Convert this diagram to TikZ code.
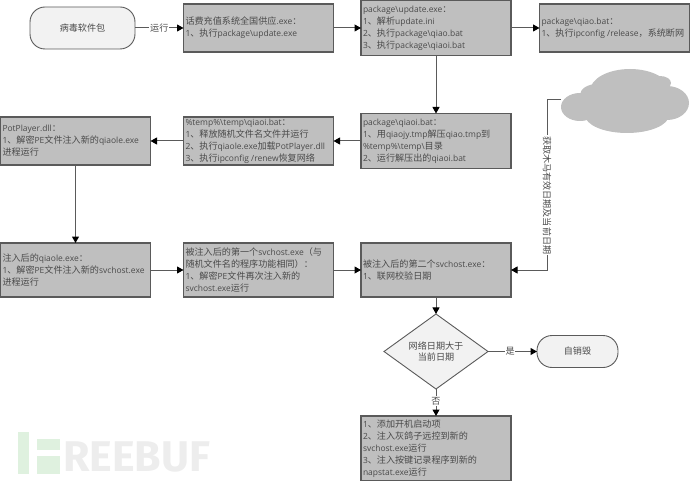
\documentclass[tikz,border=0pt]{standalone}
\usepackage{fontspec}
\usetikzlibrary{arrows.meta,shapes.geometric}
\setmainfont[Scale=0.93]{Open Sans}
\newfontfamily\cjk{Noto Sans CJK SC}
\newfontfamily\wmfont{Fira Sans}
\newcommand{\zh}[1]{{\cjk #1}}
\newcommand{\bs}{\textbackslash{}}
\definecolor{boxfill}{HTML}{BFBFBF}
\definecolor{pale}{HTML}{F2F2F2}
\definecolor{edge}{HTML}{5A5A5A}
\definecolor{txt}{HTML}{4A4A4A}
\tikzset{
  x=1pt,y=-1pt,
  every node/.style={font=\fontsize{9.1}{11.9}\selectfont,text=txt},
  stepbox/.style={draw=edge,fill=boxfill,line width=1.2pt,rectangle,minimum width=150pt,text width=146pt,inner xsep=2pt,inner ysep=0pt,align=flush left,outer sep=0pt},
  endbox/.style={draw=edge,fill=pale,line width=0.9pt,rounded corners=15pt,align=center,outer sep=0pt},
  decide/.style={draw=edge,fill=pale,line width=0.9pt,diamond,minimum width=104pt,minimum height=61pt,inner sep=0pt,align=center,outer sep=0pt},
  conn/.style={draw=edge,line width=1pt,-{Triangle[length=6.5pt,width=7pt,color=black]}},
  lab/.style={fill=white,inner sep=0.8pt},
  cloudpart/.style={fill=boxfill,draw=none}
}
\begin{document}
\begin{tikzpicture}
\useasboundingbox (0,0) rectangle (690,481);
% watermark
\fill[green!40!gray!18!white] (18,432) rectangle (29,474);
\fill[green!40!gray!18!white] (37,439) rectangle (60,450);
\fill[green!40!gray!18!white] (37,456) rectangle (60,474);
\node[anchor=west,inner sep=0pt,text=black!7] (wm) at (63,456.5) {\wmfont\fontsize{43}{43}\selectfont\bfseries REEBUF};
% cloud
\fill[cloudpart] (580,107) ellipse [x radius=19,y radius=14];
\fill[cloudpart] (630,91) ellipse [x radius=40,y radius=22];
\fill[cloudpart] (667,103) ellipse [x radius=22,y radius=17];
\fill[cloudpart] (627,115) ellipse [x radius=42,y radius=18];
\fill[cloudpart] (660,83) ellipse [x radius=11,y radius=7];
\fill[cloudpart] (597,95) ellipse [x radius=17,y radius=11];
\coordinate (cl) at (561,100);
% nodes
\node[endbox,minimum width=105pt,minimum height=42pt] (start) at (82.5,28) {\zh{病毒软件包}};
\node[stepbox,minimum height=48pt] (a1) at (258.5,28) {\zh{话费充值系统全国供应}.exe\zh{：}\\1\zh{、执行}package\bs update.exe};
\node[stepbox,minimum height=55pt] (a2) at (436,28) {package\bs update.exe\zh{：}\\1\zh{、解析}update.ini\\2\zh{、执行}package\bs qiao.bat\\3\zh{、执行}package\bs qiaoi.bat};
\node[stepbox,minimum height=48pt] (a3) at (614.5,28) {package\bs qiao.bat\zh{：}\\1\zh{、执行}ipconfig /release\zh{，系统断网}};
\node[stepbox,minimum height=55pt] (b3) at (436,141) {package\bs qiaoi.bat\zh{：}\\1\zh{、用}qiaojy.tmp\zh{解压}qiao.tmp\zh{到}\\\%temp\%\bs temp\bs\zh{目录}\\2\zh{、运行解压出的}qiaoi.bat};
\node[stepbox,minimum height=48pt] (b2) at (258.5,141) {\%temp\%\bs temp\bs qiaoi.bat\zh{：}\\1\zh{、释放随机文件名文件并运行}\\2\zh{、执行}qiaole.exe\zh{加载}PotPlayer.dll\\3\zh{、执行}ipconfig /renew\zh{恢复网络}};
\node[stepbox,minimum height=48pt] (b1) at (75.5,141) {PotPlayer.dll\zh{：}\\1\zh{、解密}PE\zh{文件注入新的}qiaole.exe\\\zh{进程运行}};
\node[stepbox,minimum height=54pt] (c1) at (75.5,270) {\zh{注入后的}qiaole.exe\zh{：}\\1\zh{、解密}PE\zh{文件注入新的}svchost.exe\\\zh{进程运行}};
\node[stepbox,minimum height=54pt] (c2) at (258.5,270) {\zh{被注入后的第一个}svchost.exe\zh{（与}\\\zh{随机文件名的程序功能相同）：}\\1\zh{、解密}PE\zh{文件再次注入新的}\\svchost.exe\zh{运行}};
\node[stepbox,minimum height=54pt] (c3) at (436,270) {\zh{被注入后的第二个}svchost.exe\zh{：}\\1\zh{、联网校验日期}};
\node[decide] (d) at (436,351.5) {\zh{网络日期大于}\\\zh{当前日期}};
\node[endbox,minimum width=81pt,minimum height=32pt] (end) at (577.5,351.5) {\zh{自销毁}};
\node[stepbox,minimum height=65pt] (f) at (436,448.5) {1\zh{、添加开机启动项}\\2\zh{、注入灰鸽子远控到新的}\\svchost.exe\zh{运行}\\3\zh{、注入按键记录程序到新的}\\napstat.exe\zh{运行}};
% connectors
\draw[conn] (start) -- node[lab] {\zh{运行}} (a1);
\draw[conn] (a1) -- (a2);
\draw[conn] (a2) -- (a3);
\draw[conn] (a2) -- (b3);
\draw[conn] (b3) -- (b2);
\draw[conn] (b2) -- (b1);
\draw[conn] (b1) -- (c1);
\draw[conn] (c1) -- (c2);
\draw[conn] (c2) -- (c3);
\draw[conn] (cl) -- ++(-14,0) -- node[lab,rotate=-90,pos=0.56] {\zh{获取木马有效日期及当前日期}} ++(0,170) -- (c3.east);
\draw[conn] (c3) -- (d);
\draw[conn] (d) -- node[lab,pos=0.45] {\zh{是}} (end);
\draw[conn] (d) -- node[lab,pos=0.45] {\zh{否}} (f);
\end{tikzpicture}
\end{document}
